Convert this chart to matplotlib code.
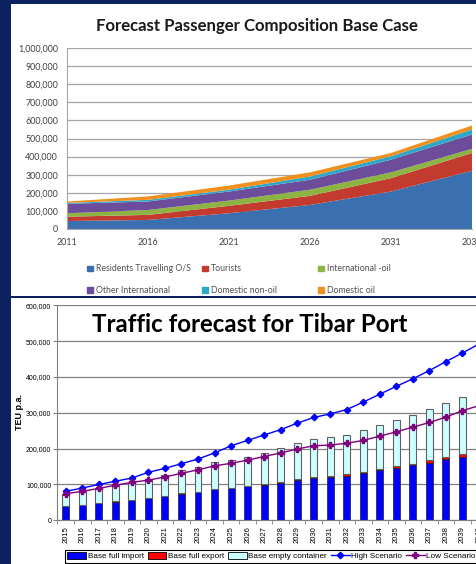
import numpy as np
import matplotlib
matplotlib.use('Agg')
import matplotlib.pyplot as plt
from matplotlib.patches import Rectangle, Patch
from matplotlib.lines import Line2D
from matplotlib.ticker import FuncFormatter, MultipleLocator

# passenger composition, base case (stacked)
pax_years = [2011, 2016, 2021, 2026, 2031, 2036]
residents = [44000, 50000, 87000, 133000, 207000, 322000]
tourists = [24000, 28000, 41000, 50000, 74000, 98000]
intl_oil = [19000, 27000, 29000, 34000, 32000, 23000]
other_intl = [52000, 47000, 50000, 55000, 70000, 79000]
dom_nonoil = [5000, 9000, 10000, 18000, 19000, 28000]
dom_oil = [8000, 19000, 23000, 23000, 18000, 22000]
pax_labels = ['Residents Travelling O/S', 'Tourists', 'International -oil',
              'Other International', 'Domestic non-oil', 'Domestic oil']
pax_colors = ['#3a70b0', '#c23b2e', '#8db443', '#6d4c9b', '#2ea7c9', '#f0901f']

# Tibar port TEU forecast
teu_years = list(range(2015, 2041))
full_import = [39, 43, 48, 52, 57, 62, 68, 74, 79, 86, 90, 95, 98, 103, 112, 118,
               120, 125, 131, 139, 146, 153, 160, 170, 178, 189]
full_export = [1, 1, 1, 1, 1, 1, 1, 1, 1, 1, 1, 1.5, 2, 3, 2, 3,
               3, 4, 4, 4, 5, 5, 7, 6, 7, 8]
empty_cont = [34, 39, 41, 48, 47, 52, 58, 64, 70, 77, 78, 81.5, 89, 96, 103, 107,
              110, 110, 117, 124, 129, 137, 144, 152, 158, 165]
high_scen = [81, 90, 100, 109, 118, 134, 145, 158, 171, 188, 208, 223, 238, 253, 271, 287,
             297, 309, 330, 352, 374, 395, 418, 443, 467, 492]
low_scen = [74, 81, 89, 98, 106, 112, 121, 131, 141, 152, 159, 168, 178, 188, 199, 208,
            210, 215, 223, 235, 247, 260, 273, 288, 306, 320]

W, H = 477, 564
NAVY = '#0c2260'


def box(x0, y0, x1, y1):
    # pixel box (from top-left) -> figure fraction rect
    return [x0 / W, 1 - y1 / H, (x1 - x0) / W, (y1 - y0) / H]


def comma(v, p):
    return f'{v:,.0f}'


plt.rcParams['font.family'] = ['Liberation Sans', 'DejaVu Sans']
fig = plt.figure(figsize=(W / 100, H / 100), dpi=100, facecolor=NAVY)

# white panels
for b in [box(11, 4, 477, 296), box(11, 298, 477, 564)]:
    fig.add_artist(Rectangle((b[0], b[1]), b[2], b[3], transform=fig.transFigure,
                             facecolor='white', edgecolor='none', zorder=-1))

# ---------- top chart ----------
ax1 = fig.add_axes(box(67, 48, 472, 229))
ax1.stackplot(pax_years, residents, tourists, intl_oil, other_intl, dom_nonoil, dom_oil,
              colors=pax_colors, labels=pax_labels, lw=0)
ax1.set_xlim(2011, 2036)
ax1.set_ylim(0, 1000000)
ax1.set_xticks(pax_years)
ax1.yaxis.set_major_locator(MultipleLocator(100000))
ax1.yaxis.set_major_formatter(FuncFormatter(comma))
ax1.grid(axis='y', color='#a6a6a6', lw=0.9)
ax1.set_axisbelow(True)
for s in ['top', 'right']:
    ax1.spines[s].set_visible(False)
for s in ['left', 'bottom']:
    ax1.spines[s].set_color('#a6a6a6')
ax1.tick_params(length=0, labelsize=6.4, labelcolor='#404040', pad=6.5)
for t in ax1.get_xticklabels() + ax1.get_yticklabels():
    t.set_family('Lato')
fig.text(257 / W, 1 - 26 / H, 'Forecast Passenger Composition Base Case',
         ha='center', va='center', fontsize=12.1, fontweight='bold', family='Lato', color='#1a1a1a')

# legend in three columns, laid out like the Excel one
handles = [Patch(color=c) for c in pax_colors]
col_x = [83, 198, 314]
for i in range(3):
    leg = ax1.legend([handles[i], handles[i + 3]], [pax_labels[i], pax_labels[i + 3]],
                     loc='upper left', bbox_to_anchor=(col_x[i] / W, 1 - 260 / H),
                     bbox_transform=fig.transFigure, frameon=False, borderpad=0,
                     handlelength=0.6, handleheight=0.6, handletextpad=0.35,
                     labelspacing=1.45, prop={'family': 'Lato', 'size': 6.3})
    for t in leg.get_texts():
        t.set_color('#505050')
    if i < 2:
        ax1.add_artist(leg)

# ---------- bottom chart ----------
step = 16.53
ax2 = fig.add_axes(box(57.5, 305.3, 57.5 + 26.5 * step, 520.3))
x = np.arange(len(teu_years))
imp = np.array(full_import) * 1000
exp_ = np.array(full_export) * 1000
emp = np.array(empty_cont) * 1000
ax2.bar(x, imp, width=0.42, color='#0000ff', edgecolor='#202020', lw=0.5)
ax2.bar(x, exp_, width=0.42, bottom=imp, color='#ff0000', edgecolor='#202020', lw=0.5)
ax2.bar(x, emp, width=0.42, bottom=imp + exp_, color='#ccffff', edgecolor='#606060', lw=0.8)
ax2.plot(x, np.array(high_scen) * 1000, color='#0000ff', marker='D', ms=3.3, lw=1)
ax2.plot(x, np.array(low_scen) * 1000, color='#800080', marker='P', ms=4.8, lw=1)
ax2.set_xlim(-0.5, 26.0)
ax2.set_ylim(0, 600000)
ax2.set_xticks(x)
ax2.set_xticklabels([str(y) for y in teu_years], rotation=90, fontsize=5.5)
ax2.set_xticks(x - 0.5, minor=True)
ax2.tick_params(axis='x', which='major', length=0, pad=4)
ax2.tick_params(axis='x', which='minor', length=3, color='#808080')
ax2.yaxis.set_major_locator(MultipleLocator(100000))
ax2.yaxis.set_major_formatter(FuncFormatter(comma))
ax2.tick_params(axis='y', length=3, color='#808080', labelsize=5, pad=1.5)
ax2.grid(axis='y', color='#808080', lw=0.9)
ax2.set_axisbelow(True)
for s in ['top', 'right']:
    ax2.spines[s].set_visible(False)
for s in ['left', 'bottom']:
    ax2.spines[s].set_color('#808080')
fig.text(20 / W, 1 - 412 / H, 'TEU p.a.', rotation=90, ha='center', va='center',
         fontsize=6.5, fontweight='bold')
fig.text(250 / W, 1 - 324 / H, 'Traffic forecast for Tibar Port',
         ha='center', va='center', fontsize=17.4, fontweight='bold', family='Lato', color='black')

leg_handles = [Patch(facecolor='#0000ff', edgecolor='black', lw=0.6),
               Patch(facecolor='#ff0000', edgecolor='black', lw=0.6),
               Patch(facecolor='#ccffff', edgecolor='black', lw=0.6),
               Line2D([], [], color='#0000ff', marker='D', ms=3.3, lw=1),
               Line2D([], [], color='#800080', marker='P', ms=4.8, lw=1)]
leg_labels = ['Base full import', 'Base full export', 'Base empty container',
              'High Scenario', 'Low Scenario']
leg2 = ax2.legend(leg_handles, leg_labels, ncol=5, loc='upper left',
                  bbox_to_anchor=(65 / W, 1 - 550 / H), bbox_transform=fig.transFigure,
                  fancybox=False, edgecolor='black', framealpha=1, fontsize=5.9,
                  handlelength=2.3, handleheight=0.8, handletextpad=0.2,
                  columnspacing=0.45, borderpad=0.3, borderaxespad=0)
leg2.get_frame().set_linewidth(0.8)

fig.savefig('out.png', dpi=100, facecolor=NAVY)
